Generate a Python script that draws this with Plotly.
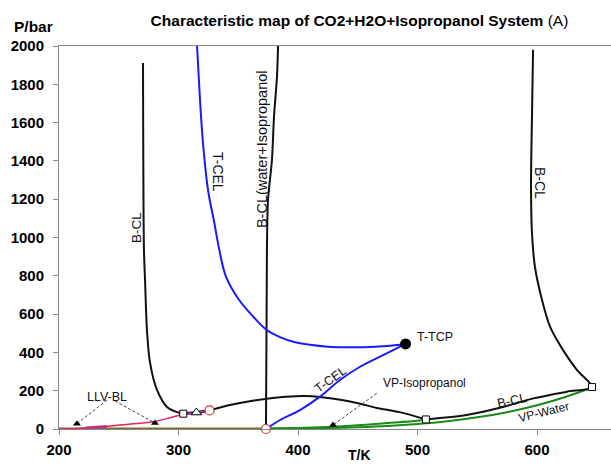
import plotly.graph_objects as go

# ---------------- data (T in K, P in bar) ----------------
T_base = [200, 373.2]
P_base = [0, 0]

T_vp_water = [373, 400, 425, 450, 475, 500, 525, 550, 575, 600, 625, 646]
P_vp_water = [1, 2.5, 5, 9.5, 16, 26.5, 41, 61, 88, 124, 170, 217]

T_vp_ipa = [373, 400, 425, 450, 475, 500, 507]
P_vp_ipa = [2, 5.5, 11, 19.5, 31, 43, 48]

T_llv = [200, 215, 234, 251, 262, 279, 292, 304, 315, 326]
P_llv = [0, 3, 11, 21, 27, 38, 57, 77, 86, 97]

T_llv_purple = [222, 240]
P_llv_purple = [5, 13]

T_ucep_seg = [304, 315, 326]
P_ucep_seg = [80, 86, 97]

T_bcl_left = [270.3, 271.1, 272, 273.6, 276.2, 282, 290.4, 297, 304]
P_bcl_left = [1911, 935, 778, 517, 345, 204, 115, 92, 80]

T_bcl_mid = [326, 343, 362, 374, 390, 405, 420, 438, 452, 466, 485, 507]
P_bcl_mid = [97, 125, 148, 158, 168, 172, 166, 150, 132, 110, 88, 50]

T_bcl_right = [507, 541, 569, 597, 625, 646, 633.5, 621.8, 611, 604.2, 598.3, 595.8, 595, 595.8, 596.7]
P_bcl_right = [50, 73, 111, 160, 195, 219, 308, 412, 533, 674, 846, 1024, 1285, 1629, 1980]

T_bcl_wi = [373.2, 374, 374.9, 378.2, 379.9, 382.4, 383.3]
P_bcl_wi = [0, 935, 1196, 1405, 1629, 1838, 2000]

T_tcel_up = [315.5, 318, 320.5, 324.7, 330, 334, 339.5, 350, 362.6, 373.8, 384.9, 396, 410, 425, 440, 455, 474, 490]
P_tcel_up = [2000, 1718, 1493, 1248, 1076, 940, 800, 680, 586, 517, 480, 456, 440, 430, 427, 427, 433, 444]

T_tcel_low = [373.2, 385, 401.7, 418.4, 435.1, 451.9, 468.6, 485.4, 490]
P_tcel_low = [0, 47, 99, 169, 256, 325, 378, 430, 444]

# leader lines (label -> target) for LLV-BL and VP-Isopropanol
T_lead1 = [240.2, 215]
P_lead1 = [151, 28]
T_lead2 = [246.9, 280.3]
P_lead2 = [146, 31]
T_lead3 = [465.9, 429.3]
P_lead3 = [186, 21]
T_tips = [215, 280.3, 429.3]
P_tips = [28, 31, 21]

# special points
T_sq = [304, 507, 646]
P_sq = [80, 50, 219]
T_tri = [315]
P_tri = [86]
T_circ = [326, 373.2]
P_circ = [97, 0]
T_tcp = [490]
P_tcp = [444]

x_ticks = [200, 300, 400, 500, 600]
y_ticks = [0, 200, 400, 600, 800, 1000, 1200, 1400, 1600, 1800, 2000]

FONT = "Liberation Sans, Arial, sans-serif"
BLACK = "#111111"
BLUE = "#1a1aff"
GREEN = "#1a8a1a"

fig = go.Figure()


def line(x, y, color, width=2, spline=True, dash=None, smoothing=0.8):
    fig.add_trace(go.Scatter(
        x=x, y=y, mode="lines",
        line=dict(color=color, width=width, dash=dash,
                  shape="spline" if spline else "linear", smoothing=smoothing),
        hoverinfo="skip", showlegend=False, cliponaxis=False))


line(T_base, P_base, "#7d6a2c", width=3, spline=False)
line(T_vp_water, P_vp_water, GREEN, width=2)
line(T_vp_ipa, P_vp_ipa, GREEN, width=2)
line(T_llv_purple, P_llv_purple, "#9a4ab0", width=3, spline=False)
line(T_ucep_seg, P_ucep_seg, "#20208a", width=3, spline=False)
line(T_llv, P_llv, "#e0245a", width=1.5)
line(T_bcl_left, P_bcl_left, BLACK, width=2)
line(T_bcl_mid, P_bcl_mid, BLACK, width=2)
line(T_bcl_right, P_bcl_right, BLACK, width=2)
line(T_bcl_wi, P_bcl_wi, BLACK, width=2)
line(T_tcel_up, P_tcel_up, BLUE, width=2, smoothing=1.0)
line(T_tcel_low, P_tcel_low, BLUE, width=2, smoothing=1.0)
for tx, py in [(T_lead1, P_lead1), (T_lead2, P_lead2), (T_lead3, P_lead3)]:
    line(tx, py, "#444444", width=1, spline=False, dash="3px,2px")

fig.add_trace(go.Scatter(x=T_tips, y=P_tips, mode="markers",
                         marker=dict(symbol="triangle-up", size=7, color="black"),
                         hoverinfo="skip", showlegend=False))
fig.add_trace(go.Scatter(x=T_sq, y=P_sq, mode="markers",
                         marker=dict(symbol="square", size=7, color="white",
                                     line=dict(color="black", width=1)),
                         hoverinfo="skip", showlegend=False, cliponaxis=False))
fig.add_trace(go.Scatter(x=T_tri, y=P_tri, mode="markers",
                         marker=dict(symbol="triangle-up", size=9, color="white",
                                     line=dict(color="black", width=1)),
                         hoverinfo="skip", showlegend=False))
fig.add_trace(go.Scatter(x=T_circ, y=P_circ, mode="markers",
                         marker=dict(symbol="circle", size=9, color="white",
                                     line=dict(color="#c0392b", width=1.2)),
                         hoverinfo="skip", showlegend=False, cliponaxis=False))
fig.add_trace(go.Scatter(x=T_tcp, y=P_tcp, mode="markers",
                         marker=dict(symbol="circle", size=11, color="black"),
                         hoverinfo="skip", showlegend=False))

labels = [
    dict(text="T-CEL", x=333.1, y=1342, textangle=90, size=14),
    dict(text="B-CL", x=265.3, y=1050, textangle=-90, size=13.5),
    dict(text="B-CL(water+Isopropanol", x=369.9, y=1462, textangle=-90, size=14.5),
    dict(text="B-CL", x=602.5, y=1285, textangle=90, size=14),
    dict(text="T-CEL", x=426.8, y=256, textangle=-36, size=12.5),
    dict(text="VP-Isopropanol", x=505.9, y=240, textangle=0, size=12),
    dict(text="B-CL", x=579, y=151, textangle=-12, size=13),
    dict(text="VP-Water", x=606, y=89, textangle=-14, size=12),
    dict(text="LLV-BL", x=240.2, y=167, textangle=0, size=12.5),
]
for lb in labels:
    fig.add_annotation(x=lb["x"], y=lb["y"], xref="x", yref="y", text=lb["text"],
                       textangle=lb["textangle"], showarrow=False,
                       font=dict(family=FONT, size=lb["size"], color="#111111"),
                       xanchor="center", yanchor="middle")
fig.add_annotation(x=497.9, y=480, xref="x", yref="y", text="T-TCP", showarrow=False,
                   font=dict(family=FONT, size=12.5, color="#111111"),
                   xanchor="left", yanchor="middle")

fig.add_annotation(x=-0.0453, y=1.052, xref="paper", yref="paper", text="<b>P/bar</b>",
                   showarrow=False, font=dict(family=FONT, size=15.5, color="black"),
                   xanchor="center", yanchor="middle")
fig.add_annotation(x=0.545, y=(429 - 455) / 383, xref="paper", yref="paper", text="<b>T/K</b>",
                   showarrow=False, font=dict(family=FONT, size=14, color="black"),
                   xanchor="center", yanchor="middle", borderpad=0)

fig.update_layout(
    width=611, height=466,
    margin=dict(l=59, r=0, t=46, b=37),
    paper_bgcolor="white", plot_bgcolor="white",
    title=dict(text="<b>Characteristic map of CO2+H2O+Isopropanol System</b> (A)",
               x=359.5 / 611, y=1 - 21 / 466, xref="container", yref="container",
               xanchor="center", yanchor="middle",
               font=dict(family=FONT, size=15.5, color="black")),
    showlegend=False,
)
fig.update_xaxes(range=[200, 200 + 552 / 1.195], tickvals=x_ticks, ticktext=[str(v) for v in x_ticks],
                 showline=True, linecolor="#888888", linewidth=1, mirror=True,
                 ticks="outside", ticklen=5, tickcolor="#888888",
                 showgrid=False, zeroline=False, ticklabelstandoff=2,
                 tickfont=dict(family=FONT, size=15, color="black", weight="bold"))
fig.update_yaxes(range=[0, 2000], tickvals=y_ticks, ticktext=[str(v) for v in y_ticks],
                 showline=True, linecolor="#888888", linewidth=1,
                 ticks="outside", ticklen=5, tickcolor="#888888",
                 showgrid=False, zeroline=False, ticklabelstandoff=6,
                 tickfont=dict(family=FONT, size=15, color="black", weight="bold"))

fig.write_html("out.html")
